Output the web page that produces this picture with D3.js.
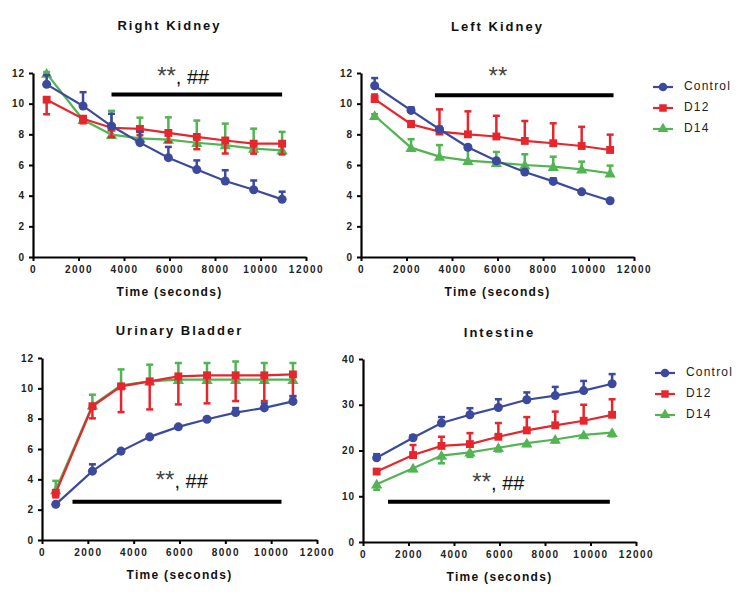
<!DOCTYPE html>
<html>
<head>
<meta charset="utf-8">
<script src="https://cdn.jsdelivr.net/npm/d3@7"></script>
<style>
  html, body { margin: 0; padding: 0; background: #fff; }
  svg { display: block; }
  text { font-family: "Liberation Sans", Arial, sans-serif; }
</style>
</head>
<body>
<svg id="chart" width="750" height="600"></svg>
<script>
// ---------- DATA ----------
const timePoints = [600, 2200, 3450, 4700, 5950, 7200, 8450, 9700, 10950];
const xTicks = [0, 2000, 4000, 6000, 8000, 10000, 12000];
const seriesNames = ["Control", "D12", "D14"];

// Right Kidney
const rkControl = [11.26, 9.85, 8.54, 7.46, 6.48, 5.70, 4.96, 4.39, 3.76];
const rkControlErr = [0.6, 0.9, 0.8, 0.7, 0.7, 0.6, 0.7, 0.6, 0.5];
const rkD12 = [10.26, 9.02, 8.43, 8.35, 8.09, 7.83, 7.60, 7.39, 7.39];
const rkD12Err = [0.95, 0.3, 0.6, 0.4, 0.6, 0.8, 0.85, 0.65, 0.7];
const rkD14 = [11.96, 8.95, 7.98, 7.74, 7.66, 7.45, 7.30, 7.07, 6.96];
const rkD14Err = [0.1, 0.2, 1.55, 1.35, 1.45, 1.45, 1.4, 1.3, 1.2];

// Left Kidney
const lkControl = [11.17, 9.56, 8.33, 7.16, 6.28, 5.54, 4.93, 4.25, 3.67];
const lkControlErr = [0.5, 0.2, 0.15, 0.1, 0.1, 0.1, 0.2, 0.1, 0.1];
const lkD12 = [10.30, 8.66, 8.18, 8.00, 7.86, 7.57, 7.42, 7.24, 6.98];
const lkD12Err = [0.3, 0.2, 1.45, 1.5, 1.35, 1.3, 1.3, 1.25, 1.0];
const lkD14 = [9.21, 7.13, 6.55, 6.28, 6.15, 6.00, 5.89, 5.72, 5.46];
const lkD14Err = [0.1, 0.55, 0.75, 0.75, 0.7, 0.7, 0.65, 0.5, 0.5];

// Urinary Bladder
const ubControl = [2.35, 4.54, 5.86, 6.80, 7.46, 7.96, 8.40, 8.71, 9.14];
const ubControlErr = [0.1, 0.45, 0.1, 0.1, 0.1, 0.1, 0.3, 0.3, 0.35];
const ubD12 = [3.11, 8.82, 10.13, 10.46, 10.79, 10.86, 10.86, 10.86, 10.92];
const ubD12Err = [0.3, 0.8, 1.7, 1.85, 1.85, 1.85, 1.7, 1.7, 1.45];
const ubD14 = [3.30, 8.88, 10.20, 10.46, 10.57, 10.57, 10.57, 10.57, 10.57];
const ubD14Err = [0.6, 0.7, 1.05, 1.1, 1.1, 1.1, 1.2, 1.1, 1.1];

// Intestine
const inControl = [18.4, 22.8, 26.0, 27.8, 29.4, 31.1, 32.0, 33.1, 34.6];
const inControlErr = [0.8, 0.5, 1.3, 1.45, 1.8, 1.6, 1.9, 2.1, 2.1];
const inD12 = [15.4, 19.0, 21.0, 21.4, 23.0, 24.4, 25.5, 26.5, 27.8];
const inD12Err = [0.5, 2.2, 2.0, 2.4, 3.0, 2.9, 3.0, 3.5, 3.4];
const inD14 = [12.6, 16.1, 18.9, 19.6, 20.6, 21.6, 22.4, 23.4, 23.9];
const inD14Err = [1.2, 0.6, 1.7, 1.0, 0.8, 0.6, 0.6, 0.6, 0.8];

const yTicksSmall = [0, 2, 4, 6, 8, 10, 12];
const yTicksLarge = [0, 10, 20, 30, 40];

// significance annotations: [xStart, xEnd, yValue, textX, textBaselineY]
const rkSig = [3450, 10950, 10.6, 6600, 11.3];
const lkSig = [3250, 11100, 10.55, 6020, 11.3];
const ubSig = [1330, 10450, 2.52, 6100, 3.42];
const inSig = [1100, 10850, 8.8, 5950, 11.3];

// ---------- LAYOUT / STYLE ----------
const colors = { Control: "#3b4a9c", D12: "#e5262d", D14: "#52b453" };
const markers = { Control: d3.symbolCircle, D12: d3.symbolSquare, D14: d3.symbolTriangle };
const markerSize = { Control: 64, D12: 62, D14: 55 };

const panels = [
  { title: "Right Kidney", x0: 33, x1: 306, y0: 257, y1: 73, yMax: 12, yTicks: yTicksSmall,
    data: { Control: [rkControl, rkControlErr], D12: [rkD12, rkD12Err], D14: [rkD14, rkD14Err] },
    dirs: { Control: 1, D12: -1, D14: 1 },
    sig: rkSig, sigText: ["**", ", ##"], titleY: 27 },
  { title: "Left Kidney", x0: 361, x1: 634, y0: 257, y1: 73, yMax: 12, yTicks: yTicksSmall,
    data: { Control: [lkControl, lkControlErr], D12: [lkD12, lkD12Err], D14: [lkD14, lkD14Err] },
    dirs: { Control: 1, D12: 1, D14: 1 },
    sig: lkSig, sigText: ["**", ""], titleY: 28 },
  { title: "Urinary Bladder", x0: 42, x1: 317, y0: 540, y1: 358, yMax: 12, yTicks: yTicksSmall,
    data: { Control: [ubControl, ubControlErr], D12: [ubD12, ubD12Err], D14: [ubD14, ubD14Err] },
    dirs: { Control: 1, D12: -1, D14: 1 },
    sig: ubSig, sigText: ["**", ", ##"], titleY: 332 },
  { title: "Intestine", x0: 363, x1: 636, y0: 542, y1: 359, yMax: 40, yTicks: yTicksLarge,
    data: { Control: [inControl, inControlErr], D12: [inD12, inD12Err], D14: [inD14, inD14Err] },
    dirs: { Control: 1, D12: 1, D14: -1 },
    sig: inSig, sigText: ["**", ", ##"], titleY: 334 }
];

const legends = [ { x: 653, y: 87 }, { x: 655, y: 373 } ];

const svg = d3.select("#chart");
const drawOrder = ["D14", "D12", "Control"];

panels.forEach(p => {
  const g = svg.append("g");
  const x = d3.scaleLinear().domain([0, 12000]).range([p.x0, p.x1]);
  const y = d3.scaleLinear().domain([0, p.yMax]).range([p.y0, p.y1]);

  // title
  g.append("text")
    .attr("x", (p.x0 + p.x1) / 2).attr("y", p.titleY)
    .attr("text-anchor", "middle").attr("dominant-baseline", "middle")
    .style("font-size", "13px").style("font-weight", "bold").style("letter-spacing", "2px")
    .style("fill", "#111").text(p.title);

  // axes
  const xAxis = g.append("g").attr("transform", `translate(0,${p.y0})`)
    .call(d3.axisBottom(x).tickValues(xTicks).tickFormat(d3.format("d")).tickSize(4).tickSizeOuter(0).tickPadding(5));
  const yAxis = g.append("g").attr("transform", `translate(${p.x0},0)`)
    .call(d3.axisLeft(y).tickValues(p.yTicks).tickSize(4).tickSizeOuter(0).tickPadding(4));
  [xAxis, yAxis].forEach(a => {
    a.select(".domain").attr("stroke", "#000").attr("stroke-width", 2.2);
    a.selectAll(".tick line").attr("stroke", "#000").attr("stroke-width", 2);
    a.selectAll(".tick text").style("font-size", "10px").style("font-weight", "bold")
      .style("letter-spacing", "1.5px").style("fill", "#222")
      .style("font-family", "'Liberation Sans', Arial, sans-serif");
  });
  yAxis.selectAll(".tick text").style("letter-spacing", "1px");

  // axis label
  g.append("text")
    .attr("x", (p.x0 + p.x1) / 2).attr("y", p.y0 + 36)
    .attr("text-anchor", "middle").attr("dominant-baseline", "middle")
    .style("font-size", "12px").style("font-weight", "bold").style("letter-spacing", "1.3px")
    .style("fill", "#111").text("Time (seconds)");

  // significance bar
  const [sx0, sx1, sy, tx, ty] = p.sig;
  g.append("line")
    .attr("x1", x(sx0)).attr("x2", x(sx1)).attr("y1", y(sy)).attr("y2", y(sy))
    .attr("stroke", "#000").attr("stroke-width", 4);
  const txt = g.append("text")
    .attr("x", x(tx)).attr("y", y(ty))
    .attr("text-anchor", "middle");
  txt.append("tspan").style("fill", "#444").style("font-size", "24px").text(p.sigText[0]);
  if (p.sigText[1]) txt.append("tspan").style("fill", "#111").style("font-size", "20px").text(p.sigText[1]);

  // series
  const line = d3.line().x((d, i) => x(timePoints[i])).y(d => y(d));
  drawOrder.forEach(name => {
    const [vals, errs] = p.data[name];
    const dir = p.dirs[name];
    const c = colors[name];
    const sg = g.append("g");
    // line
    sg.append("path").datum(vals).attr("d", line)
      .attr("fill", "none").attr("stroke", c).attr("stroke-width", 2.2);
    // error bars (one-sided)
    vals.forEach((v, i) => {
      const cx = x(timePoints[i]);
      const ye = y(v + dir * errs[i]), yv = y(v);
      sg.append("line").attr("x1", cx).attr("x2", cx).attr("y1", yv).attr("y2", ye)
        .attr("stroke", c).attr("stroke-width", 2.5);
      sg.append("line").attr("x1", cx - 3.5).attr("x2", cx + 3.5).attr("y1", ye).attr("y2", ye)
        .attr("stroke", c).attr("stroke-width", 2.5);
    });
    // markers
    sg.selectAll("path.m").data(vals).enter().append("path")
      .attr("class", "m")
      .attr("d", d3.symbol().type(markers[name]).size(markerSize[name]))
      .attr("transform", (d, i) => `translate(${x(timePoints[i])},${y(d) + (name === "D14" ? 1 : 0)})`)
      .attr("fill", c);
  });
});

// legends
legends.forEach(L => {
  const lg = svg.append("g").attr("transform", `translate(${L.x},${L.y})`);
  seriesNames.forEach((name, i) => {
    const yy = i * 21;
    const c = colors[name];
    lg.append("line").attr("x1", 0).attr("x2", 20).attr("y1", yy).attr("y2", yy)
      .attr("stroke", c).attr("stroke-width", 2.2);
    lg.append("path").attr("d", d3.symbol().type(markers[name]).size(markerSize[name] * 0.9)())
      .attr("transform", `translate(10,${yy})`).attr("fill", c);
    lg.append("text").attr("x", 31).attr("y", yy).attr("dominant-baseline", "middle")
      .style("font-size", "12px").style("letter-spacing", "1.2px").style("fill", "#222")
      .text(name);
  });
});
</script>
</body>
</html>
